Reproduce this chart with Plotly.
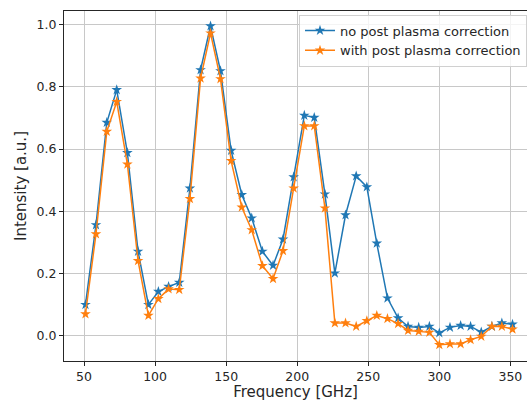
import plotly.graph_objects as go

freq = [51.0, 58.4, 66.0, 73.0, 80.5, 88.0, 95.3, 102.3, 109.5, 117.0,
        124.5, 132.0, 139.0, 146.0, 153.5, 161.0, 168.0, 175.5, 183.0, 190.0,
        197.5, 205.0, 212.0, 219.5, 226.5, 234.0, 241.5, 249.0, 256.0, 263.5,
        271.0, 278.0, 285.5, 293.0, 300.0, 307.5, 315.0, 322.0, 329.5, 337.0,
        344.0, 351.5]

no_corr = [0.100, 0.356, 0.685, 0.790, 0.588, 0.271, 0.100, 0.142, 0.158, 0.171,
           0.474, 0.854, 0.995, 0.851, 0.595, 0.453, 0.378, 0.271, 0.226, 0.310,
           0.510, 0.708, 0.701, 0.455, 0.201, 0.388, 0.513, 0.478, 0.297, 0.121,
           0.057, 0.030, 0.027, 0.030, 0.009, 0.027, 0.033, 0.030, 0.012, 0.030,
           0.041, 0.037]

with_corr = [0.070, 0.327, 0.656, 0.752, 0.551, 0.241, 0.065, 0.119, 0.150, 0.148,
             0.440, 0.827, 0.972, 0.825, 0.562, 0.413, 0.340, 0.225, 0.183, 0.273,
             0.474, 0.674, 0.674, 0.410, 0.041, 0.041, 0.030, 0.048, 0.065, 0.055,
             0.039, 0.017, 0.014, 0.011, -0.029, -0.026, -0.026, -0.013, -0.002, 0.030,
             0.030, 0.021]

x_ticks = [50, 100, 150, 200, 250, 300, 350]
y_ticks = [0.0, 0.2, 0.4, 0.6, 0.8, 1.0]

fig = go.Figure()
fig.add_trace(go.Scatter(x=freq, y=no_corr, mode="lines+markers",
                         name="no post plasma correction",
                         line=dict(color="#1f77b4", width=1.5),
                         marker=dict(symbol="star", size=8, color="#1f77b4")))
fig.add_trace(go.Scatter(x=freq, y=with_corr, mode="lines+markers",
                         name="with post plasma correction",
                         line=dict(color="#ff7f0e", width=1.5),
                         marker=dict(symbol="star", size=8, color="#ff7f0e")))

fig.update_layout(
    width=527, height=401,
    margin=dict(l=64, r=0, t=11, b=40),
    paper_bgcolor="white", plot_bgcolor="white",
    font=dict(family="DejaVu Sans", size=12, color="#262626"),
    showlegend=True,
    legend=dict(x=1.0, y=0.99, xanchor="right", yanchor="top",
                bgcolor="rgba(255,255,255,0.8)", bordercolor="#d0d0d0", borderwidth=1,
                font=dict(family="DejaVu Sans", size=13, color="#262626"),
                itemwidth=30, tracegroupgap=0),
    xaxis=dict(range=[35.9, 361.7], tickvals=x_ticks, ticks="outside", ticklen=4,
               tickcolor="#262626", showline=True, linecolor="#262626", linewidth=1,
               mirror=True, showgrid=True, gridcolor="#c8c8c8", gridwidth=1,
               zeroline=False, tickfont=dict(size=12.5), automargin=False,
               title=dict(text="Frequency [GHz]", font=dict(size=15), standoff=9)),
    yaxis=dict(range=[-0.081, 1.0433], tickvals=y_ticks, tickformat=".1f",
               ticks="outside", ticklen=4, tickcolor="#262626",
               showline=True, linecolor="#262626", linewidth=1, mirror=False,
               showgrid=True, gridcolor="#c8c8c8", gridwidth=1, zeroline=False,
               tickfont=dict(size=12.5), automargin=False,
               title=dict(text="Intensity [a.u.]", font=dict(size=15), standoff=6)),
)

# Remove the browser's default 8px page margin so the figure fills the window.
fig.write_html("out.html",
               config={"displayModeBar": False},
               post_script="document.body.style.margin='0';document.body.style.overflow='hidden';")
